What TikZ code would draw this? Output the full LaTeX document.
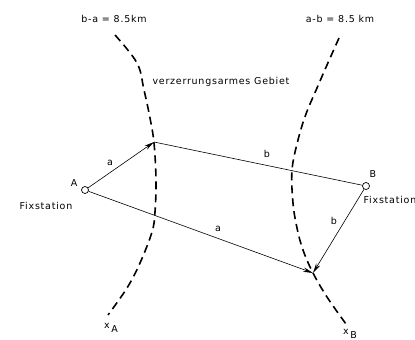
\documentclass[tikz,border=0pt]{standalone}
\usepackage{fontspec}
\setmainfont{DejaVu Sans}[LetterSpace=8]
\usetikzlibrary{arrows.meta}

\begin{document}
\begin{tikzpicture}[x=1pt,y=-1pt]
    \tikzset{station/.style={circle,draw,fill=white,line width=0.7pt,minimum size=7pt,inner sep=0pt},
      strahl/.style={line width=0.6pt,-{Stealth[length=10pt,width=4.5pt]}},
      grenze/.style={line width=1.6pt,dash pattern=on 8pt off 5pt},
      beschr/.style={font=\fontsize{9.5}{11}\selectfont,inner sep=0pt}}
    \useasboundingbox (0,0) rectangle (415,340);
    % Hyperbelaeste
    \draw[grenze] plot[smooth,tension=0.6] coordinates {(115,35) (137,63) (144,90) (150,118) (154,143)
      (156,180) (155,212) (152,232) (140,263) (127,288) (108,315)};
    \draw[grenze] plot[smooth,tension=0.6] coordinates {(339,38) (327,65) (317,88) (306,114) (298,140)
      (292,170) (293,203) (297,228) (303,250) (313,273) (327,297) (346,324)};
    % Stationen und Schnittpunkte
    \node[station] (A) at (85,190) {};
    \node[station] (B) at (366,186) {};
    \coordinate (P) at (154,142);
    \coordinate (Q) at (313,273);
    \draw[strahl] (A) -- (P);
    \draw[line width=0.6pt] (P) -- (B);
    \draw[strahl] (A) -- (Q);
    \draw[strahl] (B) -- (Q);
    % Beschriftung
    \node[beschr] (ba) at (114,19) {b-a = 8.5km};
    \node[beschr] (ab) at (340,19) {a-b = 8.5 km};
    \node[beschr] (geb) at (221,82) {verzerrungsarmes Gebiet};
    \node[beschr] (la1) at (110,163) {a};
    \node[beschr] (lb1) at (267,154) {b};
    \node[beschr] (lA) at (74,183) {A};
    \node[beschr] (fA) at (46,206) {Fixstation};
    \node[beschr] (lB) at (373,174) {B};
    \node[beschr] (fB) at (390,200) {Fixstation};
    \node[beschr] (lb2) at (334,221) {b};
    \node[beschr] (la2) at (218,229) {a};
    \node[beschr] (xA) at (111,328) {x\,\raisebox{-0.7ex}{A}};
    \node[beschr] (xB) at (350,334) {x\,\raisebox{-0.7ex}{B}};
\end{tikzpicture}
\end{document}
